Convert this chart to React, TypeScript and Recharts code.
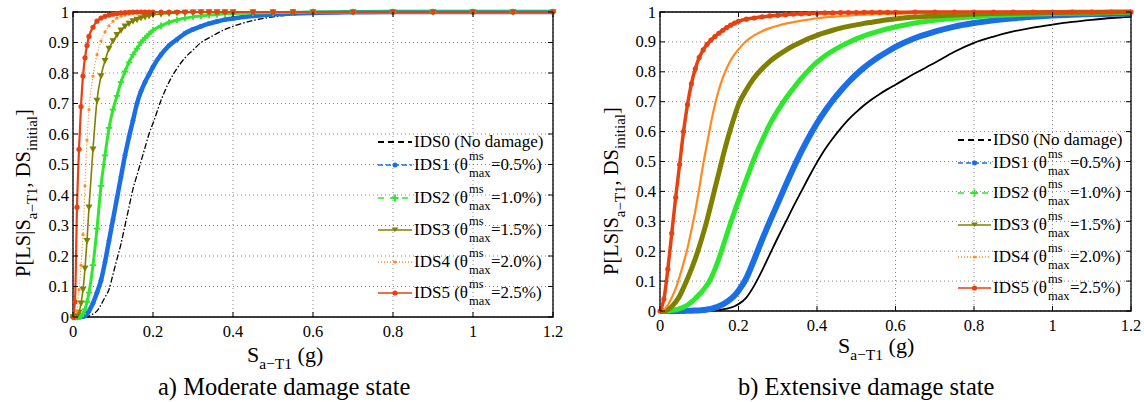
import React from "react";
import { LineChart, Line, XAxis, YAxis, CartesianGrid, ReferenceArea } from "recharts";

const FONT = "'Liberation Serif', 'DejaVu Serif Condensed', 'DejaVu Serif', serif";

const xTicks = [0, 0.2, 0.4, 0.6, 0.8, 1, 1.2];
const yTicks = [0, 0.1, 0.2, 0.3, 0.4, 0.5, 0.6, 0.7, 0.8, 0.9, 1];

// a) moderate damage state
const sModerate = [0, 0.005, 0.01, 0.015, 0.02, 0.025, 0.03, 0.035, 0.04, 0.05, 0.06, 0.07, 0.08, 0.09, 0.1, 0.11, 0.12, 0.13, 0.14, 0.15, 0.16, 0.17, 0.18, 0.19, 0.2, 0.22, 0.24, 0.26, 0.28, 0.3, 0.32, 0.34, 0.36, 0.38, 0.4, 0.45, 0.5, 0.55, 0.6, 0.7, 0.8, 0.9, 1.0, 1.1, 1.2];
const moderateIDS0 = [0, 0, 0, 0, 0, 0, 0, 0, 0.003, 0.01, 0.02, 0.04, 0.065, 0.09, 0.14, 0.19, 0.24, 0.3, 0.36, 0.42, 0.465, 0.51, 0.555, 0.6, 0.635, 0.71, 0.77, 0.815, 0.85, 0.875, 0.9, 0.915, 0.93, 0.943, 0.953, 0.972, 0.984, 0.991, 0.995, 0.998, 1, 1, 1, 1, 1];
const moderateIDS1 = [0, 0, 0, 0, 0, 0.001, 0.004, 0.01, 0.02, 0.045, 0.08, 0.12, 0.18, 0.25, 0.32, 0.39, 0.46, 0.53, 0.59, 0.645, 0.7, 0.74, 0.77, 0.795, 0.82, 0.86, 0.89, 0.91, 0.93, 0.943, 0.953, 0.962, 0.969, 0.975, 0.979, 0.987, 0.992, 0.995, 0.997, 0.999, 1, 1, 1, 1, 1];
const moderateIDS2 = [0, 0, 0, 0.001, 0.004, 0.01, 0.025, 0.05, 0.08, 0.17, 0.29, 0.43, 0.53, 0.62, 0.68, 0.725, 0.77, 0.805, 0.835, 0.86, 0.88, 0.9, 0.915, 0.928, 0.94, 0.955, 0.966, 0.974, 0.98, 0.984, 0.987, 0.99, 0.992, 0.994, 0.995, 0.997, 0.998, 0.999, 1, 1, 1, 1, 1, 1, 1];
const moderateIDS3 = [0, 0, 0.003, 0.015, 0.045, 0.09, 0.16, 0.25, 0.36, 0.55, 0.71, 0.79, 0.84, 0.88, 0.905, 0.925, 0.94, 0.953, 0.962, 0.97, 0.975, 0.98, 0.984, 0.987, 0.99, 0.993, 0.995, 0.997, 0.998, 0.999, 1, 1, 1, 1, 1, 1, 1, 1, 1, 1, 1, 1, 1, 1, 1];
const moderateIDS4 = [0, 0, 0.02, 0.09, 0.17, 0.27, 0.43, 0.58, 0.68, 0.79, 0.86, 0.905, 0.935, 0.955, 0.97, 0.98, 0.986, 0.99, 0.993, 0.995, 0.997, 0.998, 0.999, 0.999, 1, 1, 1, 1, 1, 1, 1, 1, 1, 1, 1, 1, 1, 1, 1, 1, 1, 1, 1, 1, 1];
const moderateIDS5 = [0, 0.05, 0.36, 0.55, 0.69, 0.79, 0.85, 0.89, 0.92, 0.95, 0.97, 0.98, 0.986, 0.99, 0.993, 0.995, 0.997, 0.998, 0.999, 1, 1, 1, 1, 1, 1, 1, 1, 1, 1, 1, 1, 1, 1, 1, 1, 1, 1, 1, 1, 1, 1, 1, 1, 1, 1];

// b) extensive damage state
const sExtensive = [0, 0.01, 0.02, 0.03, 0.04, 0.05, 0.06, 0.07, 0.08, 0.09, 0.1, 0.11, 0.12, 0.13, 0.14, 0.15, 0.16, 0.17, 0.18, 0.19, 0.2, 0.22, 0.24, 0.26, 0.28, 0.3, 0.32, 0.34, 0.36, 0.38, 0.4, 0.42, 0.44, 0.46, 0.48, 0.5, 0.52, 0.54, 0.56, 0.58, 0.6, 0.65, 0.7, 0.75, 0.8, 0.85, 0.9, 0.95, 1.0, 1.05, 1.1, 1.15, 1.2];
const extensiveIDS0 = [0, 0, 0, 0, 0, 0, 0, 0, 0, 0, 0, 0, 0.001, 0.001, 0.002, 0.003, 0.005, 0.008, 0.011, 0.016, 0.023, 0.045, 0.085, 0.135, 0.19, 0.245, 0.297, 0.35, 0.4, 0.45, 0.497, 0.54, 0.577, 0.61, 0.64, 0.665, 0.688, 0.708, 0.726, 0.742, 0.757, 0.795, 0.83, 0.867, 0.897, 0.918, 0.935, 0.948, 0.958, 0.967, 0.974, 0.98, 0.984];
const extensiveIDS1 = [0, 0, 0, 0, 0, 0, 0, 0.001, 0.001, 0.002, 0.002, 0.003, 0.005, 0.007, 0.011, 0.016, 0.022, 0.03, 0.04, 0.052, 0.068, 0.11, 0.172, 0.238, 0.3, 0.36, 0.42, 0.478, 0.533, 0.583, 0.628, 0.668, 0.704, 0.736, 0.765, 0.791, 0.814, 0.834, 0.852, 0.868, 0.883, 0.913, 0.934, 0.951, 0.963, 0.972, 0.979, 0.984, 0.988, 0.991, 0.993, 0.994, 0.995];
const extensiveIDS2 = [0, 0, 0, 0.002, 0.004, 0.008, 0.013, 0.02, 0.03, 0.042, 0.055, 0.07, 0.087, 0.11, 0.14, 0.175, 0.215, 0.255, 0.295, 0.333, 0.37, 0.44, 0.51, 0.57, 0.625, 0.67, 0.71, 0.745, 0.778, 0.807, 0.832, 0.853, 0.87, 0.885, 0.898, 0.91, 0.92, 0.929, 0.937, 0.944, 0.95, 0.963, 0.972, 0.979, 0.984, 0.988, 0.991, 0.993, 0.995, 0.996, 0.997, 0.998, 0.999];
const extensiveIDS3 = [0, 0, 0.005, 0.015, 0.03, 0.05, 0.078, 0.108, 0.14, 0.175, 0.215, 0.258, 0.305, 0.357, 0.41, 0.462, 0.515, 0.565, 0.61, 0.652, 0.69, 0.74, 0.78, 0.81, 0.835, 0.855, 0.872, 0.887, 0.9, 0.912, 0.922, 0.931, 0.939, 0.946, 0.952, 0.957, 0.962, 0.966, 0.97, 0.974, 0.977, 0.983, 0.987, 0.99, 0.993, 0.995, 0.996, 0.997, 0.998, 0.999, 0.999, 1, 1];
const extensiveIDS4 = [0, 0.005, 0.02, 0.045, 0.075, 0.115, 0.16, 0.21, 0.27, 0.335, 0.41, 0.49, 0.56, 0.63, 0.69, 0.74, 0.78, 0.812, 0.838, 0.858, 0.875, 0.903, 0.922, 0.936, 0.946, 0.954, 0.961, 0.966, 0.971, 0.975, 0.979, 0.982, 0.984, 0.986, 0.988, 0.99, 0.991, 0.992, 0.993, 0.994, 0.994, 0.996, 0.997, 0.998, 0.998, 0.999, 0.999, 1, 1, 1, 1, 1, 1];
const extensiveIDS5 = [0, 0.04, 0.14, 0.26, 0.38, 0.49, 0.6, 0.69, 0.76, 0.81, 0.848, 0.873, 0.892, 0.906, 0.918, 0.929, 0.939, 0.948, 0.956, 0.963, 0.969, 0.976, 0.98, 0.984, 0.987, 0.989, 0.991, 0.993, 0.994, 0.995, 0.996, 0.997, 0.997, 0.998, 0.998, 0.998, 0.999, 0.999, 0.999, 0.999, 0.999, 1, 1, 1, 1, 1, 1, 1, 1, 1, 1, 1, 1];

const seriesKeys = ["ids0", "ids1", "ids2", "ids3", "ids4", "ids5"];
const seriesNames = ["IDS0", "IDS1", "IDS2", "IDS3", "IDS4", "IDS5"];
const driftLimits = ["", "0.5", "1.0", "1.5", "2.0", "2.5"];
const colors = ["#000000", "#1a6fe6", "#2ee82e", "#808000", "#ff8a1f", "#e8400f"];

const buildRows = (xs: number[], ys: number[][]) =>
  xs.map((s, i) => {
    const row: any = { s };
    ys.forEach((arr, k) => (row[seriesKeys[k]] = arr[i]));
    return row;
  });

const rowsModerate = buildRows(sModerate, [moderateIDS0, moderateIDS1, moderateIDS2, moderateIDS3, moderateIDS4, moderateIDS5]);
const rowsExtensive = buildRows(sExtensive, [extensiveIDS0, extensiveIDS1, extensiveIDS2, extensiveIDS3, extensiveIDS4, extensiveIDS5]);

const marker = (kind: string, color: string, size: number) => (p: any) => {
  const { cx, cy, index } = p;
  const key = `${kind}-${index}`;
  if (cx == null || cy == null) return <g key={key} />;
  if (kind === "tri")
    return <path key={key} d={`M${cx - size},${cy - size * 0.8}L${cx + size},${cy - size * 0.8}L${cx},${cy + size}Z`} fill={color} />;
  if (kind === "plus")
    return <path key={key} d={`M${cx - size},${cy}H${cx + size}M${cx},${cy - size}V${cy + size}`} stroke={color} strokeWidth={1.8} />;
  return <circle key={key} cx={cx} cy={cy} r={size} fill={color} stroke="none" />;
};

// line styles for each panel
const stylesModerate = [
  { w: 1.3, dash: "6 2 1.5 2", dot: null },
  { w: 4.5, dash: undefined, dot: ["circle", 2.4] },
  { w: 3, dash: undefined, dot: ["plus", 3.2] },
  { w: 1.6, dash: undefined, dot: ["tri", 3.5] },
  { w: 1.2, dash: "1 2", dot: ["circle", 1.6] },
  { w: 2.2, dash: undefined, dot: ["circle", 2.6] },
];
const stylesExtensive = [
  { w: 1.8, dash: undefined, dot: null },
  { w: 6, dash: undefined, dot: null },
  { w: 5, dash: undefined, dot: null },
  { w: 5, dash: undefined, dot: null },
  { w: 2.2, dash: undefined, dot: null },
  { w: 3.5, dash: undefined, dot: ["circle", 2.6] },
];

type Plot = { l: number; r: number; t: number; b: number };

const Panel = ({ left, width, plot, rows, styles }: { left: number; width: number; plot: Plot; rows: any[]; styles: any[] }) => {
  const xTick = (p: any) => (
    <g key={`xt-${p.index}`}>
      <line x1={p.x} x2={p.x} y1={plot.b} y2={plot.b - 5} stroke="#000" />
      <line x1={p.x} x2={p.x} y1={plot.t} y2={plot.t + 5} stroke="#000" />
      <text x={p.x} y={plot.b + 20} textAnchor="middle" fontSize={16.5} fontFamily={FONT} fill="#000">
        {p.payload.value}
      </text>
    </g>
  );
  const yTick = (p: any) => (
    <g key={`yt-${p.index}`}>
      <line x1={plot.l} x2={plot.l + 5} y1={p.y} y2={p.y} stroke="#000" />
      <line x1={plot.r} x2={plot.r - 5} y1={p.y} y2={p.y} stroke="#000" />
      <text x={plot.l - 4} y={p.y + 5.5} textAnchor="end" fontSize={16.5} fontFamily={FONT} fill="#000">
        {p.payload.value}
      </text>
    </g>
  );
  return (
    <div style={{ position: "absolute", left, top: 0 }}>
      <LineChart
        width={width}
        height={402}
        data={rows}
        margin={{ top: plot.t, right: width - plot.r, left: plot.l - 40, bottom: 402 - plot.b - 30 }}
      >
        <CartesianGrid stroke="#8a8a8a" strokeDasharray="1 3" horizontalValues={yTicks} verticalValues={xTicks} />
        <XAxis dataKey="s" type="number" domain={[0, 1.2]} ticks={xTicks} height={30} axisLine={false} tickLine={false} tick={xTick} interval={0} />
        <YAxis type="number" domain={[0, 1]} ticks={yTicks} width={40} axisLine={false} tickLine={false} tick={yTick} interval={0} />
        {seriesKeys.map((k, i) => {
          const st = styles[i];
          return (
            <Line
              key={k}
              dataKey={k}
              type="monotone"
              stroke={colors[i]}
              strokeWidth={st.w}
              strokeDasharray={st.dash}
              dot={st.dot ? marker(st.dot[0], colors[i], st.dot[1]) : false}
              activeDot={false}
              isAnimationActive={false}
            />
          );
        })}
        <ReferenceArea x1={0} x2={1.2} y1={0} y2={1} stroke="#000" strokeWidth={1.3} fill="none" fillOpacity={0} ifOverflow="visible" />
      </LineChart>
    </div>
  );
};

const LegendSample = ({ i, w }: { i: number; w: number }) => {
  const c = colors[i];
  const m = w / 2;
  const dashes = ["6 4", "5 3", "6 6", undefined, "1 2", undefined];
  return (
    <svg width={w} height={20} style={{ display: "block", flex: "none" }}>
      <line x1={0} x2={w} y1={10} y2={10} stroke={c} strokeWidth={i === 0 ? 2.2 : 1.6} strokeDasharray={dashes[i]} />
      {i === 1 && <circle cx={m} cy={10} r={2.5} fill={c} />}
      {i === 2 && <path d={`M${m - 3.5},10H${m + 3.5}M${m},6.5V13.5`} stroke={c} strokeWidth={2} />}
      {i === 3 && <path d={`M${m - 3.5},7.5L${m + 3.5},7.5L${m},12Z`} fill={c} />}
      {i === 4 && <circle cx={m} cy={10} r={1.6} fill={c} />}
      {i === 5 && <circle cx={m} cy={10} r={2.6} fill={c} />}
    </svg>
  );
};

const LegendBox = ({ sampleLeft, textLeft, rowsY }: { sampleLeft: number; textLeft: number; rowsY: number[] }) => (
  <>
    {seriesNames.map((name, i) => (
      <div
        key={name}
        style={{ position: "absolute", left: sampleLeft, top: rowsY[i] - 10, height: 20, display: "flex", alignItems: "center", whiteSpace: "nowrap", fontSize: 17, lineHeight: "20px", color: "#000" }}
      >
        <LegendSample i={i} w={textLeft - sampleLeft - 2} />
        <span style={{ marginLeft: 2 }}>
          {i === 0 ? (
            `${name} (No damage)`
          ) : (
            <>
              {name} (θ
              <span style={{ display: "inline-block", position: "relative", width: 23, height: 20, verticalAlign: "top" }}>
                <span style={{ position: "absolute", left: 1, top: -6, fontSize: 12.5, lineHeight: "14px" }}>ms</span>
                <span style={{ position: "absolute", left: 1, top: 11, fontSize: 12.5, lineHeight: "14px" }}>max</span>
              </span>
              ={driftLimits[i]}%)
            </>
          )}
        </span>
      </div>
    ))}
  </>
);

const YLabel = ({ cx, cy }: { cx: number; cy: number }) => (
  <div
    style={{ position: "absolute", left: cx - 130, top: cy - 14, width: 260, height: 28, lineHeight: "28px", textAlign: "center", transform: "rotate(-90deg)", fontSize: 20.5, whiteSpace: "nowrap" }}
  >
    P[LS|S<span style={{ fontSize: 15, position: "relative", top: 7 }}>a−T1</span>, DS
    <span style={{ fontSize: 15, position: "relative", top: 7 }}>initial</span>]
  </div>
);

const XLabel = ({ left, top }: { left: number; top: number }) => (
  <div style={{ position: "absolute", left, top, fontSize: 22, lineHeight: "22px", whiteSpace: "nowrap" }}>
    S<span style={{ fontSize: 15.5, lineHeight: "16px", position: "relative", top: 7 }}>a−T1</span> (g)
  </div>
);

const Caption = ({ left, text }: { left: number; text: string }) => (
  <div style={{ position: "absolute", left, top: 374, fontSize: 24.5, lineHeight: "25px", whiteSpace: "nowrap" }}>{text}</div>
);

export default function App() {
  return (
    <div style={{ position: "absolute", left: 0, top: 0, width: 1144, height: 402, background: "#fff", overflow: "hidden", fontFamily: FONT }}>
      <Panel left={0} width={570} plot={{ l: 73, r: 553, t: 12, b: 317 }} rows={rowsModerate} styles={stylesModerate} />
      <Panel left={580} width={564} plot={{ l: 80, r: 551, t: 12, b: 311 }} rows={rowsExtensive} styles={stylesExtensive} />
      <LegendBox sampleLeft={378} textLeft={414} rowsY={[142, 165, 198, 230, 262, 293]} />
      <LegendBox sampleLeft={958} textLeft={993} rowsY={[140, 163, 193, 225, 257, 288]} />
      <YLabel cx={23} cy={193} />
      <YLabel cx={611} cy={191} />
      <XLabel left={247} top={344} />
      <XLabel left={838} top={335} />
      <Caption left={158} text="a) Moderate damage state" />
      <Caption left={738} text="b) Extensive damage state" />
    </div>
  );
}
